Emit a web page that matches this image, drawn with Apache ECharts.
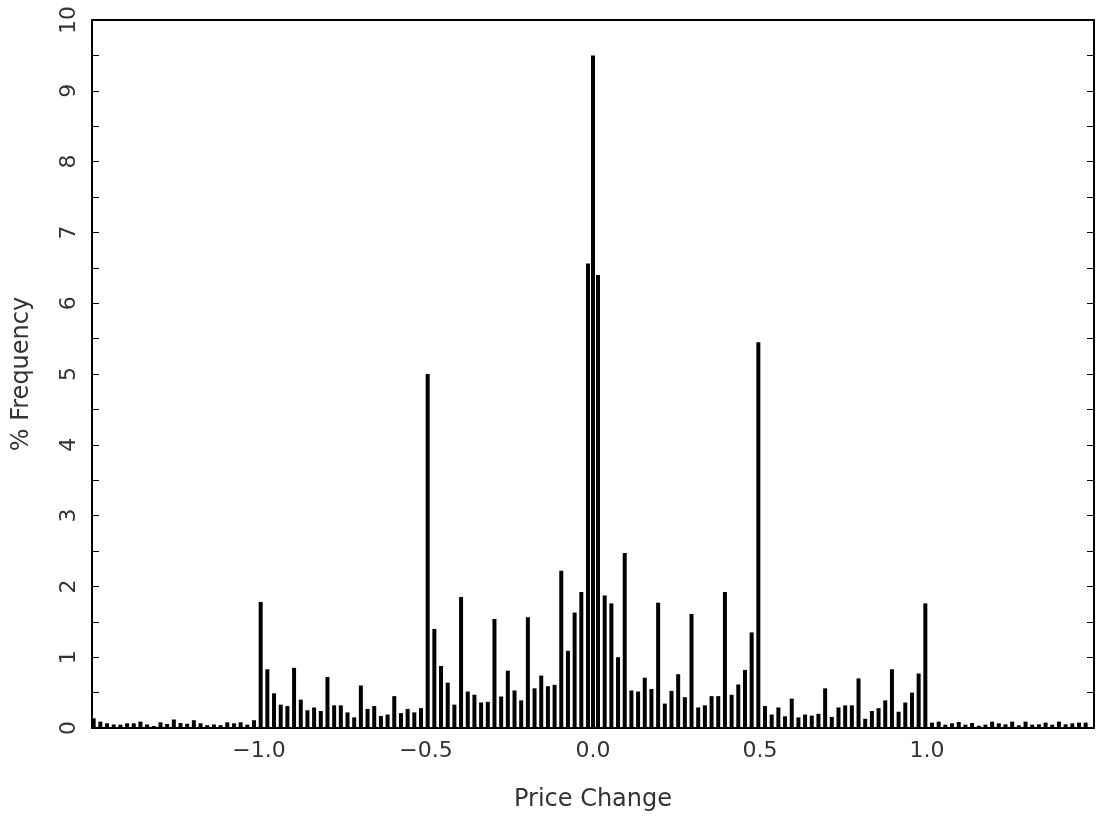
<!DOCTYPE html>
<html>
<head>
<meta charset="utf-8">
<script src="https://cdn.jsdelivr.net/npm/echarts@6/dist/echarts.min.js"></script>
<style>html,body{margin:0;padding:0;background:#fff}#c{width:1096px;height:818px}</style>
</head>
<body>
<div id="c"></div>
<script>
// Bin layout: bins of width 0.02 on each side, plus a zero bin
const binWidth = 0.02;
const firstOffset = 0.015;
// % frequency for negative price-change bins, from -1.495 up to -0.015
const negValues = [0.137,0.09,0.066,0.05,0.047,0.066,0.066,0.09,0.05,0.028,
  0.08,0.057,0.12,0.07,0.06,0.11,0.066,0.04,0.05,0.04,
  0.08,0.066,0.08,0.047,0.11,1.78,0.83,0.49,0.33,0.31,
  0.85,0.40,0.25,0.29,0.24,0.72,0.32,0.32,0.22,0.15,
  0.60,0.27,0.31,0.17,0.19,0.45,0.21,0.27,0.22,0.28,
  5.0,1.40,0.875,0.64,0.33,1.85,0.515,0.47,0.36,0.37,
  1.54,0.445,0.81,0.53,0.39,1.565,0.56,0.74,0.59,0.61,
  2.22,1.09,1.63,1.92,6.56];
// % frequency for the zero-change bin
const zeroValue = 9.5;
// % frequency for positive bins, from 0.015 up to 1.475
const posValues = [6.40,1.87,1.76,1.00,2.47,0.53,0.515,0.71,0.55,1.77,
  0.345,0.525,0.76,0.435,1.61,0.29,0.32,0.45,0.45,1.92,
  0.47,0.615,0.82,1.35,5.45,0.31,0.19,0.29,0.165,0.415,
  0.15,0.19,0.175,0.20,0.56,0.155,0.29,0.32,0.32,0.70,
  0.13,0.24,0.28,0.39,0.83,0.23,0.36,0.50,0.77,1.76,
  0.076,0.09,0.047,0.066,0.085,0.047,0.07,0.033,0.047,0.09,
  0.066,0.052,0.09,0.038,0.09,0.047,0.052,0.076,0.047,0.09,
  0.052,0.066,0.076,0.076];
const xTickLabels = ['\u22121.0','\u22120.5','0.0','0.5','1.0'];
const xTickValues = [-1.0,-0.5,0.0,0.5,1.0];

const data = [];
const nNeg = negValues.length;
negValues.forEach((v,i)=>{ data.push([-(firstOffset + binWidth*(nNeg-1-i)), v]); });
data.push([0, zeroValue]);
posValues.forEach((v,i)=>{ data.push([firstOffset + binWidth*i, v]); });

const txt = {color:'#333', fontFamily:'DejaVu Sans', fontSize:22};
const chart = echarts.init(document.getElementById('c'), null, {renderer:'canvas'});
chart.setOption({
  animation:false,
  backgroundColor:'#fff',
  grid:{left:92, right:2, top:20, bottom:90, show:true, borderColor:'#000', borderWidth:2, containLabel:false},
  xAxis:{
    type:'value', min:-1.5, max:1.5, interval:0.5,
    axisLine:{show:true, onZero:false, lineStyle:{color:'#000', width:2}},
    axisTick:{show:false},
    splitLine:{show:false},
    axisLabel:Object.assign({}, txt, {margin:12, showMinLabel:false, showMaxLabel:false,
      formatter:function(v){ const i = xTickValues.findIndex(t=>Math.abs(t-v)<1e-9); return i>=0 ? xTickLabels[i] : ''; }}),
    name:'Price Change', nameLocation:'middle', nameGap:60,
    nameTextStyle:Object.assign({}, txt, {fontSize:24})
  },
  yAxis:[{
    type:'value', min:0, max:10, interval:1, position:'left',
    axisLine:{show:true, onZero:false, lineStyle:{color:'#000', width:2}},
    axisTick:{show:true, inside:true, length:7, lineStyle:{color:'#000', width:1}},
    minorTick:{show:true, splitNumber:2, length:7, lineStyle:{color:'#000', width:1}},
    splitLine:{show:false},
    axisLabel:Object.assign({}, txt, {rotate:90, margin:12}),
    name:'% Frequency', nameLocation:'middle', nameGap:58, nameRotate:90,
    nameTextStyle:Object.assign({}, txt, {fontSize:24})
  },{
    type:'value', min:0, max:10, interval:1, position:'right',
    axisLine:{show:true, onZero:false, lineStyle:{color:'#000', width:2}},
    axisTick:{show:true, inside:true, length:7, lineStyle:{color:'#000', width:1}},
    minorTick:{show:true, splitNumber:2, length:7, lineStyle:{color:'#000', width:1}},
    splitLine:{show:false},
    axisLabel:{show:false}
  }],
  series:[{
    type:'bar', data:data, barWidth:4, itemStyle:{color:'#000'}, yAxisIndex:0
  }]
});
</script>
</body>
</html>
